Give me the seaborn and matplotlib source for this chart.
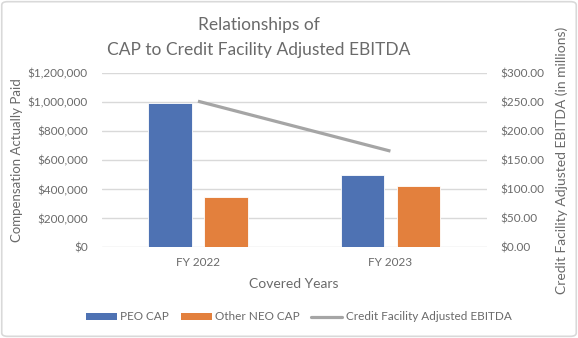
import matplotlib
matplotlib.use("Agg")
import matplotlib.pyplot as plt
import seaborn as sns
import pandas as pd
from matplotlib.patches import Patch, FancyBboxPatch
from matplotlib.lines import Line2D
from matplotlib.ticker import FuncFormatter

years = ["FY 2022", "FY 2023"]
peo_cap = [995000, 500000]
other_neo_cap = [350000, 425000]
ebitda = [252.0, 166.0]
series_names = ["PEO CAP", "Other NEO CAP"]

sns.set_theme(style="white")
plt.rcParams["font.family"] = ["Lato", "DejaVu Sans"]

TXT = "#6A6A6A"
BLUE = "#4E72B3"
ORANGE = "#E3803D"
GRAY = "#A5A5A5"

df = pd.DataFrame({
    "Year": years * 2,
    "Series": [series_names[0]] * len(years) + [series_names[1]] * len(years),
    "Value": peo_cap + other_neo_cap,
})

fig = plt.figure(figsize=(5.78, 3.38), dpi=100)
ax = fig.add_axes([0.176, 0.268, 0.666, 0.515])

sns.barplot(data=df, x="Year", y="Value", hue="Series", order=years,
            hue_order=series_names, palette=[BLUE, ORANGE], width=0.58,
            gap=0.224, ax=ax, legend=False, edgecolor="white", linewidth=0.6,
            saturation=1)
ax.set_ylim(0, 1200000)
ax.set_yticks(range(0, 1200001, 200000))
ax.yaxis.set_major_formatter(FuncFormatter(lambda v, p: f"${v:,.0f}"))
ax.grid(axis="y", color="#D9D9D9", linewidth=1.0)
ax.set_axisbelow(True)
for s in ax.spines.values():
    s.set_visible(False)
ax.tick_params(axis="both", length=0, colors=TXT, labelsize=8.5)
ax.tick_params(axis="y", pad=10)
ax.tick_params(axis="x", pad=7)
ax.set_xlabel("Covered Years", color=TXT, fontsize=10, labelpad=7)
ax.set_ylabel("Compensation Actually Paid", color=TXT, fontsize=9.5, labelpad=3)

ax2 = ax.twinx()
sns.lineplot(x=years, y=ebitda, ax=ax2, color=GRAY, linewidth=2.3,
             solid_capstyle="butt")
ax2.set_ylim(0, 300)
ax2.set_yticks(range(0, 301, 50))
ax2.yaxis.set_major_formatter(FuncFormatter(lambda v, p: f"${v:,.2f}"))
for s in ax2.spines.values():
    s.set_visible(False)
ax2.tick_params(axis="y", length=0, colors=TXT, labelsize=8.5, pad=10)
ax2.set_ylabel("Credit Facility Adjusted EBITDA (in millions)", color=TXT,
               fontsize=10, labelpad=8)
ax.set_xlim(-0.5, 1.5)

fig.text(259 / 578, 1 - 25 / 338, "Relationships of", ha="center", va="center",
         color=TXT, fontsize=12.5)
fig.text(259 / 578, 1 - 50 / 338, "CAP to Credit Facility Adjusted EBITDA",
         ha="center", va="center", color=TXT, fontsize=12.5)

handles = [Patch(facecolor=BLUE, edgecolor="none"),
           Patch(facecolor=ORANGE, edgecolor="none"),
           Line2D([0], [0], color=GRAY, linewidth=2.3)]
labels = ["PEO CAP", "Other NEO CAP", "Credit Facility Adjusted EBITDA"]
fig.legend(handles, labels, loc="center", bbox_to_anchor=(0.517, 1 - 317 / 338),
           ncol=3, frameon=False, fontsize=8.5, labelcolor=TXT,
           handlelength=2.6, handleheight=0.6, handletextpad=0.3,
           columnspacing=1.0)

border = FancyBboxPatch((0.003, 0.005), 0.994, 0.99, boxstyle="round,pad=0,rounding_size=0.01",
                        transform=fig.transFigure, facecolor="none",
                        edgecolor="#D9D9D9", linewidth=1.2)
fig.patches.append(border)

fig.savefig("out.png", dpi=100)
